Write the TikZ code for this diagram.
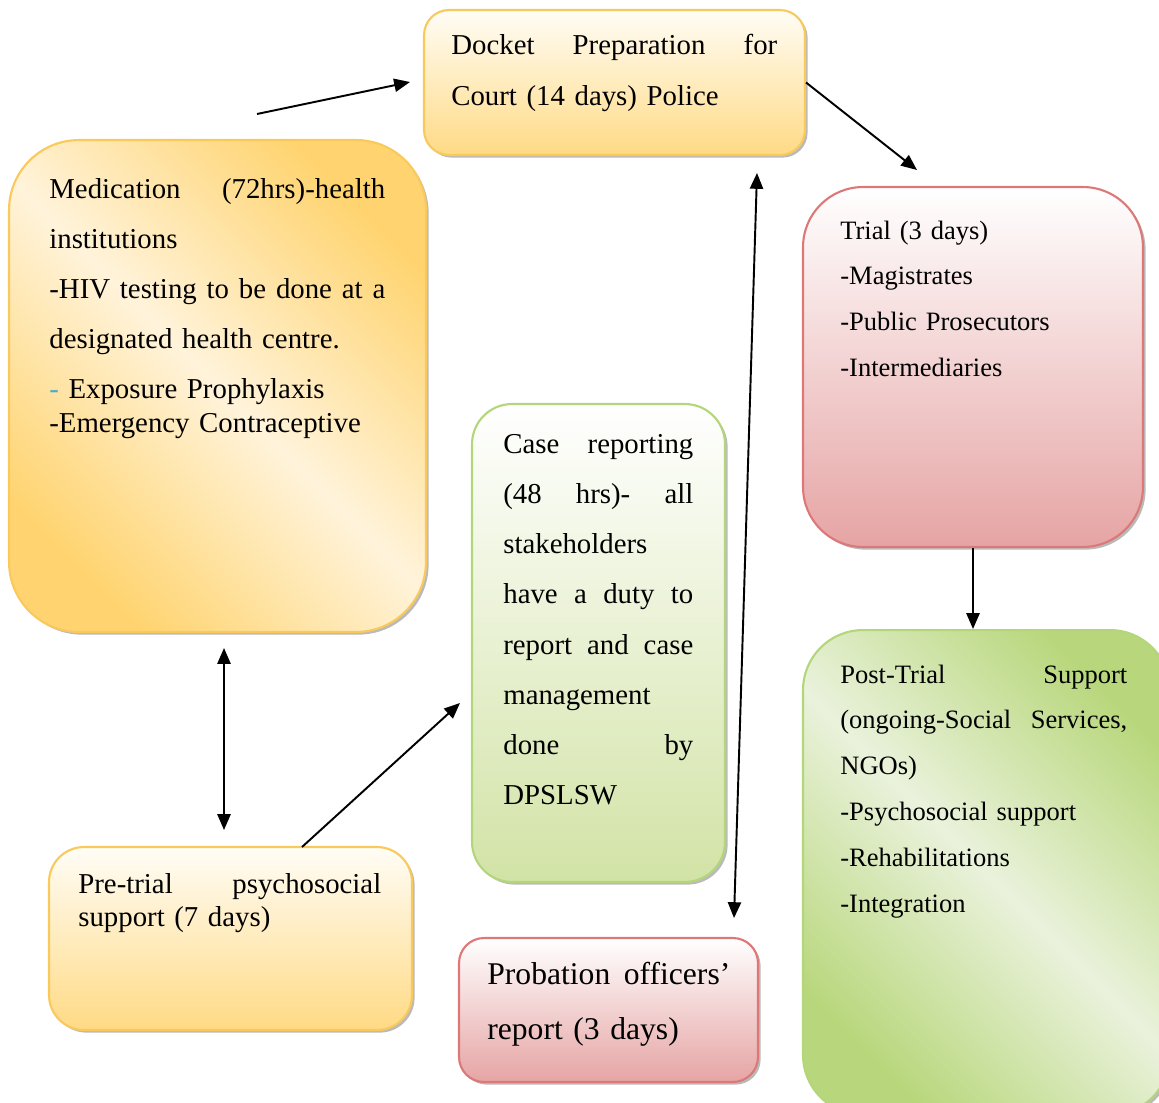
\documentclass[tikz,border=0pt]{standalone}
\usepackage{fontspec}
\setmainfont{Liberation Serif}
\usetikzlibrary{arrows.meta,shadows}
\definecolor{yTop}{HTML}{FFFDF6}
\definecolor{yBot}{HTML}{FFDA85}
\definecolor{yDark}{HTML}{FFD470}
\definecolor{yLight}{HTML}{FFF3DA}
\definecolor{yLine}{HTML}{FAC95C}
\definecolor{pTop}{HTML}{FFFFFF}
\definecolor{pBot}{HTML}{E6A4A4}
\definecolor{pLine}{HTML}{DC7878}
\definecolor{gTop}{HTML}{FFFFFF}
\definecolor{gBot}{HTML}{D2E3A6}
\definecolor{gDark}{HTML}{B8D77C}
\definecolor{gLight}{HTML}{EAF2DC}
\definecolor{gLine}{HTML}{B4D67A}
\definecolor{dashblue}{HTML}{4BACC6}
\newcommand{\jline}[2]{\leavevmode\hbox to #1{#2}}
\begin{document}
\begin{tikzpicture}[x=0.02cm,y=-0.02cm,
  box/.style={draw, line width=1.2pt, inner sep=0pt,
    drop shadow={shadow xshift=1.5pt, shadow yshift=-1.5pt, fill=black!45, opacity=0.6}},
  txt/.style={anchor=base west, inner sep=0pt, align=left},
  fmain/.style={font=\fontsize{16.4pt}{28.6pt}\selectfont},
  fsmall/.style={font=\fontsize{15.1pt}{26.1pt}\selectfont},
  arr/.style={line width=1.1pt, -{Triangle[length=9pt,width=7.5pt]}},
  darr/.style={line width=1.1pt, {Triangle[length=9pt,width=7.5pt]}-{Triangle[length=9pt,width=7.5pt]}}]
\useasboundingbox (0,0) rectangle (1159,1102);
\clip (0,0) rectangle (1159,1102);

% boxes
\node[box, draw=yLine, top color=yTop, bottom color=yBot, rounded corners=0.5cm,
  minimum width=7.62cm, minimum height=2.9cm] (docket) at (614.5,82.5) {};
\node[box, draw=yLine, top color=yDark, bottom color=yDark, middle color=yLight, shading angle=-45,
  rounded corners=1.4cm, minimum width=8.34cm, minimum height=9.84cm] (med) at (217.5,386) {};
\node[box, draw=pLine, top color=pTop, bottom color=pBot, rounded corners=1.2cm,
  minimum width=6.8cm, minimum height=7.2cm] (trial) at (973,367) {};
\node[box, draw=gLine, top color=gDark, bottom color=gDark, middle color=gLight, shading angle=-45,
  rounded corners=1.2cm, minimum width=7.34cm, minimum height=9.7cm] (post) at (986.5,872.5) {};
\node[box, draw=gLine, top color=gTop, bottom color=gBot, rounded corners=0.8cm,
  minimum width=5.06cm, minimum height=9.56cm] (case) at (598.5,643) {};
\node[box, draw=yLine, top color=yTop, bottom color=yBot, rounded corners=0.7cm,
  minimum width=7.26cm, minimum height=3.66cm] (pre) at (230.5,938.5) {};
\node[box, draw=pLine, top color=pTop, bottom color=pBot, rounded corners=0.5cm,
  minimum width=5.98cm, minimum height=2.88cm] (prob) at (608.5,1010) {};

% texts
\node[txt, text width=6.52cm, font=\fontsize{16.4pt}{29.5pt}\selectfont] (docketT) at (451,54)
  {\jline{6.52cm}{Docket\hfill Preparation\hfill for}\\Court (14 days) Police};
\node[txt, fmain, text width=6.72cm] (medT) at (49,198)
  {\jline{6.72cm}{Medication\hfill (72hrs)-health}\\
   institutions\\
   \jline{6.72cm}{-HIV\hfill testing\hfill to\hfill be\hfill done\hfill at\hfill a}\\
   designated health centre.\\
   {\color{dashblue}-} Exposure Prophylaxis\\[-9.3pt]
   -Emergency Contraceptive};
\node[txt, fsmall, text width=5.5cm] (trialT) at (840,239)
  {Trial (3 days)\\-Magistrates\\-Public Prosecutors\\-Intermediaries};
\node[txt, fsmall, text width=5.74cm] (postT) at (840,683)
  {\jline{5.74cm}{Post-Trial\hfill Support}\\
   \jline{5.74cm}{(ongoing-Social\hfill Services,}\\
   NGOs)\\-Psychosocial support\\-Rehabilitations\\-Integration};
\node[txt, fmain, text width=3.8cm] (caseT) at (503,453)
  {\jline{3.8cm}{Case\hfill reporting}\\
   \jline{3.8cm}{(48\hfill hrs)-\hfill all}\\
   stakeholders\\
   \jline{3.8cm}{have\hfill a\hfill duty\hfill to}\\
   \jline{3.8cm}{report\hfill and\hfill case}\\
   management\\
   \jline{3.8cm}{done\hfill by}\\
   DPSLSW};
\node[txt, text width=6.06cm, font=\fontsize{16.4pt}{19.3pt}\selectfont] (preT) at (78,893)
  {\jline{6.06cm}{Pre-trial\hfill psychosocial}\\support (7 days)};
\node[txt, text width=4.86cm, font=\fontsize{18pt}{31.7pt}\selectfont] (probT) at (487,984)
  {\jline{4.86cm}{Probation\hfill officers’}\\report (3 days)};

% connector ends
\coordinate (a1s) at (257,114);
\coordinate (a1e) at (410,82);
\coordinate (a2e) at (917,170);
\coordinate (a4s) at (224,648);
\coordinate (a4e) at (224,830);
\coordinate (a5s) at (302,847);
\coordinate (a5e) at (460,703);
\coordinate (a6s) at (757,173);
\coordinate (a6e) at (734,918);

\draw[arr] (a1s) -- (a1e);
\draw[arr] (docket.east) -- (a2e);
\draw[arr] (trial.south) -- (trial.south |- post.north);
\draw[darr] (a4s) -- (a4e);
\draw[arr] (a5s) -- (a5e);
\draw[darr] (a6s) -- (a6e);
\end{tikzpicture}
\end{document}
